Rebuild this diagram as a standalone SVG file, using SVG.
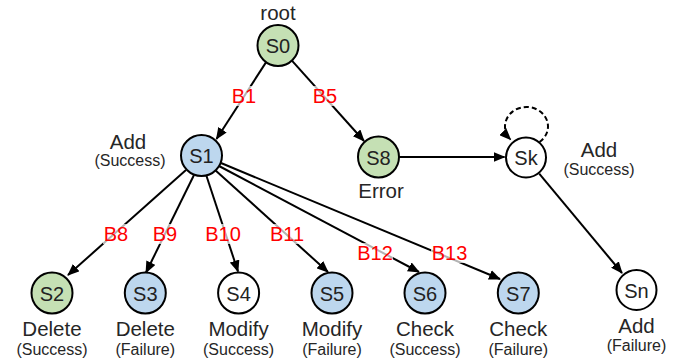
<svg xmlns="http://www.w3.org/2000/svg" width="691" height="362" viewBox="0 0 691 362">
  <style>
    .node { stroke: #000; stroke-width: 2; }
    .green { fill: #c5e0b4; }
    .blue { fill: #bdd7ee; }
    .white { fill: #fff; }
    .nlabel { font-family: "Liberation Sans", Arial, sans-serif; font-size: 20px; fill: #222; text-anchor: middle; }
    .big { font-family: "Liberation Sans", Arial, sans-serif; font-size: 20.5px; fill: #262626; text-anchor: middle; }
    .small { font-family: "Liberation Sans", Arial, sans-serif; font-size: 16px; fill: #262626; text-anchor: middle; }
    .edge { stroke: #000; stroke-width: 2; fill: none; marker-end: url(#arrow); }
    .dashed { stroke-dasharray: 5 3; }
    .elabel { font-family: "Liberation Sans", Arial, sans-serif; font-size: 20px; fill: #ff0000; text-anchor: middle; }
    .lblbg { fill: #fff; fill-opacity: 0.7; }
  </style>
  <defs>
    <marker id="arrow" viewBox="0 0 12 10" refX="11" refY="5" markerWidth="12" markerHeight="10" markerUnits="userSpaceOnUse" orient="auto">
      <path d="M0,0 L12,5 L0,10 Z" fill="#000"/>
    </marker>
  </defs>

  <rect width="691" height="362" fill="#fff"/>

  <!-- connectors -->
  <g id="connectors">
    <line class="edge" x1="266.3" y1="61.9" x2="216.5" y2="139"/>
    <line class="edge" x1="291.7" y1="60.3" x2="364" y2="141"/>
    <line class="edge" x1="186" y1="170" x2="68" y2="275"/>
    <line class="edge" x1="194" y1="175" x2="146" y2="272.5"/>
    <line class="edge" x1="206.5" y1="176" x2="238" y2="271.5"/>
    <line class="edge" x1="215.6" y1="170.4" x2="328" y2="272"/>
    <line class="edge" x1="219" y1="166" x2="419" y2="272"/>
    <line class="edge" x1="221" y1="163" x2="500" y2="279"/>
    <line class="edge" x1="399" y1="157" x2="504.5" y2="157"/>
    <line class="edge" x1="539.2" y1="173.7" x2="622" y2="273"/>
    <path class="edge dashed" d="M 539.5 142 A 21.5 19.5 0 1 0 510.5 139.5"/>

    <!-- edge labels -->
    <g id="edge-labels">
      <rect class="lblbg" x="231" y="86" width="26" height="20"/>
      <text class="elabel" x="244" y="103">B1</text>
      <rect class="lblbg" x="312" y="86" width="26" height="20"/>
      <text class="elabel" x="325" y="103">B5</text>
      <rect class="lblbg" x="103" y="224" width="26" height="20"/>
      <text class="elabel" x="116" y="241">B8</text>
      <rect class="lblbg" x="152" y="224" width="26" height="20"/>
      <text class="elabel" x="165" y="241">B9</text>
      <rect class="lblbg" x="205" y="224" width="36" height="20"/>
      <text class="elabel" x="223" y="241">B10</text>
      <rect class="lblbg" x="269" y="224" width="36" height="20"/>
      <text class="elabel" x="287" y="241">B11</text>
      <rect class="lblbg" x="357" y="243" width="36" height="20"/>
      <text class="elabel" x="375" y="260">B12</text>
      <rect class="lblbg" x="431" y="243" width="37" height="20"/>
      <text class="elabel" x="449.5" y="260">B13</text>
    </g>
  </g>

  <!-- nodes -->
  <g id="S0">
    <circle class="node green" cx="278" cy="45.5" r="20.5"/>
    <text class="nlabel" x="278" y="53">S0</text>
    <text class="big" x="278" y="20">root</text>
  </g>
  <g id="S1">
    <circle class="node blue" cx="201.5" cy="155.5" r="20.5"/>
    <text class="nlabel" x="201.5" y="163">S1</text>
    <text class="big" x="128" y="149">Add</text>
    <text class="small" x="130" y="166">(Success)</text>
  </g>
  <g id="S8">
    <circle class="node green" cx="378.5" cy="157" r="20.5"/>
    <text class="nlabel" x="378.5" y="164.5">S8</text>
    <text class="big" x="381" y="198">Error</text>
  </g>
  <g id="Sk">
    <circle class="node white" cx="526" cy="157.5" r="20"/>
    <text class="nlabel" x="526" y="165">Sk</text>
    <text class="big" x="599" y="157">Add</text>
    <text class="small" x="599" y="175">(Success)</text>
  </g>
  <g id="Sn">
    <circle class="node white" cx="636.5" cy="290" r="20"/>
    <text class="nlabel" x="636.5" y="297.5">Sn</text>
    <text class="big" x="636.5" y="333">Add</text>
    <text class="small" x="636.5" y="351">(Failure)</text>
  </g>
  <g id="S2">
    <circle class="node green" cx="52" cy="293" r="20.5"/>
    <text class="nlabel" x="52" y="300.5">S2</text>
    <text class="big" x="52" y="336">Delete</text>
    <text class="small" x="52" y="354.5">(Success)</text>
  </g>
  <g id="S3">
    <circle class="node blue" cx="145.3" cy="293" r="20.5"/>
    <text class="nlabel" x="145.3" y="300.5">S3</text>
    <text class="big" x="145.3" y="336">Delete</text>
    <text class="small" x="145.3" y="354.5">(Failure)</text>
  </g>
  <g id="S4">
    <circle class="node white" cx="238.6" cy="293" r="20.5"/>
    <text class="nlabel" x="238.6" y="300.5">S4</text>
    <text class="big" x="238.6" y="336">Modify</text>
    <text class="small" x="238.6" y="354.5">(Success)</text>
  </g>
  <g id="S5">
    <circle class="node blue" cx="332" cy="293" r="20.5"/>
    <text class="nlabel" x="332" y="300.5">S5</text>
    <text class="big" x="332" y="336">Modify</text>
    <text class="small" x="332" y="354.5">(Failure)</text>
  </g>
  <g id="S6">
    <circle class="node blue" cx="425" cy="293" r="20.5"/>
    <text class="nlabel" x="425" y="300.5">S6</text>
    <text class="big" x="425" y="336">Check</text>
    <text class="small" x="425" y="354.5">(Success)</text>
  </g>
  <g id="S7">
    <circle class="node blue" cx="518.3" cy="293" r="20.5"/>
    <text class="nlabel" x="518.3" y="300.5">S7</text>
    <text class="big" x="518.3" y="336">Check</text>
    <text class="small" x="518.3" y="354.5">(Failure)</text>
  </g>
</svg>
